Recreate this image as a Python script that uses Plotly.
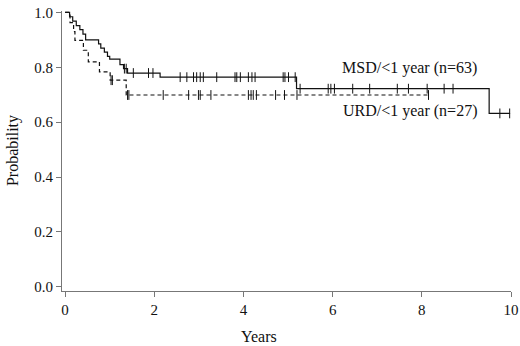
import numpy as np
import plotly.graph_objects as go

# MSD/<1 year (n=63): step times and survival
msd_times = [0, 0.10, 0.17, 0.25, 0.33, 0.40, 0.46, 0.75, 0.80, 0.88, 0.95, 1.00,
             1.23, 1.31, 1.40, 2.13, 5.19, 9.51]
msd_surv = [1.0, 0.984, 0.968, 0.952, 0.937, 0.921, 0.900, 0.885, 0.870, 0.855, 0.840,
            0.830, 0.810, 0.795, 0.779, 0.764, 0.722, 0.632]
msd_end = 9.98
msd_censor = [1.33, 1.37, 1.53, 1.87, 1.97, 2.58, 2.73, 2.88, 2.95, 3.03, 3.10, 3.40,
              3.81, 3.85, 3.93, 4.11, 4.19, 4.26, 4.89, 4.93, 5.01, 5.16, 5.27, 5.90,
              5.96, 6.04, 6.45, 6.83, 7.45, 7.70, 8.12, 8.50, 8.70, 9.75, 9.97]

# URD/<1 year (n=27)
urd_times = [0, 0.11, 0.19, 0.22, 0.41, 0.52, 0.77, 1.01, 1.37]
urd_surv = [1.0, 0.963, 0.930, 0.898, 0.862, 0.820, 0.783, 0.753, 0.699]
urd_end = 8.15
urd_censor = [1.03, 1.06, 1.40, 1.43, 2.20, 2.77, 2.99, 3.03, 3.27, 4.11, 4.17, 4.22,
              4.29, 4.72, 4.92, 5.20, 8.15]

x_ticks = [0, 2, 4, 6, 8, 10]
y_ticks = [0.0, 0.2, 0.4, 0.6, 0.8, 1.0]
y_tick_labels = ["0.0", "0.2", "0.4", "0.6", "0.8", "1.0"]


def step_at(times, surv, t):
    i = np.searchsorted(np.array(times), t, side="right") - 1
    return surv[i]


fig = go.Figure()

for times, surv, end, cens, dash in [
    (msd_times, msd_surv, msd_end, msd_censor, "solid"),
    (urd_times, urd_surv, urd_end, urd_censor, "4px,3px"),
]:
    fig.add_trace(go.Scatter(
        x=list(times) + [end], y=list(surv) + [surv[-1]],
        mode="lines", line=dict(shape="hv", color="#111", width=1.2, dash=dash),
        showlegend=False, hoverinfo="skip"))
    fig.add_trace(go.Scatter(
        x=cens, y=[step_at(times, surv, c) for c in cens],
        mode="markers",
        marker=dict(symbol="line-ns", size=7, line=dict(color="#111", width=1)),
        showlegend=False, hoverinfo="skip"))

font_family = "Liberation Serif, Times New Roman, serif"

fig.add_annotation(x=7.73, y=0.796, xref="x", yref="y", text="MSD/&lt;1 year (n=63)",
                   showarrow=False, font=dict(family=font_family, size=16, color="#111"))
fig.add_annotation(x=7.73, y=0.640, xref="x", yref="y", text="URD/&lt;1 year (n=27)",
                   showarrow=False, font=dict(family=font_family, size=16, color="#111"))

# axis titles as paper annotations for precise placement
fig.add_annotation(x=0.439, y=-0.164, xref="paper", yref="paper",
                   xanchor="center", yanchor="middle", text="Years", showarrow=False,
                   font=dict(family=font_family, size=16, color="#111"))
fig.add_annotation(x=-0.109, y=0.5, xref="paper", yref="paper", textangle=-90,
                   xanchor="center", yanchor="middle", text="Probability", showarrow=False,
                   font=dict(family=font_family, size=16, color="#111"))

fig.update_layout(
    width=520, height=346,
    margin=dict(l=62, r=9, t=11, b=55),
    paper_bgcolor="white", plot_bgcolor="white",
    font=dict(family=font_family, size=15, color="#111"),
)
fig.update_xaxes(
    range=[-0.07, 10.0], tickvals=x_ticks, ticks="outside", ticklen=5,
    tickcolor="#777", showline=True, linecolor="#777", linewidth=1,
    showgrid=False, zeroline=False, automargin=False,
)
fig.update_yaxes(
    range=[-0.015, 1.005], tickvals=y_ticks, ticktext=y_tick_labels,
    ticks="outside", ticklen=5, tickcolor="#777", showline=True,
    linecolor="#777", linewidth=1, showgrid=False, zeroline=False, automargin=False,
)

fig.write_html("out.html", config={"displayModeBar": False},
               post_script="document.body.style.margin='0';"
                           "document.body.style.overflow='hidden';")
